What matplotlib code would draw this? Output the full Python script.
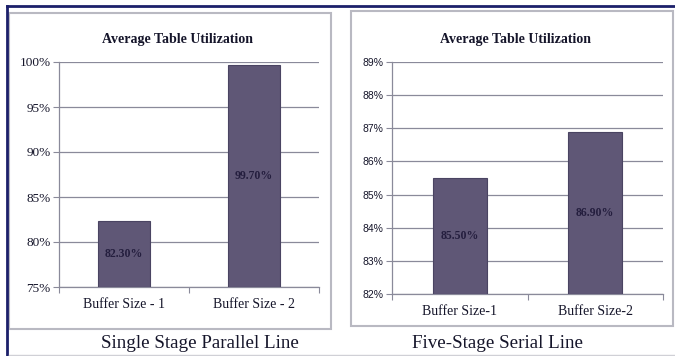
import matplotlib
matplotlib.use("Agg")
import matplotlib.pyplot as plt
from matplotlib.patches import Rectangle
from matplotlib.lines import Line2D
import numpy as np

# ---- data ----
left_categories = ["Buffer Size - 1", "Buffer Size - 2"]
left_values = [82.3, 99.7]
left_ticks = [75, 80, 85, 90, 95, 100]
left_caption = "Single Stage Parallel Line"

right_categories = ["Buffer Size-1", "Buffer Size-2"]
right_values = [85.5, 86.9]
right_ticks = [82, 83, 84, 85, 86, 87, 88, 89]
right_caption = "Five-Stage Serial Line"

chart_title = "Average Table Utilization"

# ---- style ----
W, H = 675, 356
SERIF = "Liberation Serif"
SANS = "Liberation Sans"
BAR = "#5f5776"
BAR_EDGE = "#4a4462"
GRID = "#8a8a9a"
TXT = "#15152a"
LBL = "#241e3e"
BOX = "#b9b9c2"
NAVY = "#1c206a"

fig = plt.figure(figsize=(W / 100, H / 100), dpi=100)
fig.patch.set_facecolor("white")


def fx(px):
    return px / W


def fy(py):
    return 1 - py / H


def frame(x0, y0, x1, y1):
    fig.add_artist(Rectangle((fx(x0), fy(y1)), fx(x1) - fx(x0), fy(y0) - fy(y1),
                             transform=fig.transFigure, fill=False,
                             edgecolor=BOX, linewidth=1.5))


# outer decorations
fig.add_artist(Line2D([fx(7), fx(675)], [fy(6), fy(6)], transform=fig.transFigure,
                      color=NAVY, linewidth=2.0))
fig.add_artist(Line2D([fx(7), fx(7)], [fy(6), fy(356)], transform=fig.transFigure,
                      color=NAVY, linewidth=2.0))
fig.add_artist(Line2D([fx(9), fx(675)], [fy(355), fy(355)], transform=fig.transFigure,
                      color="#d0d0d6", linewidth=1.0))
frame(9, 13, 331, 329)
frame(351, 11, 673, 326)


def draw(ax_rect, cats, vals, ticks, tick_font, tick_size):
    ax = fig.add_axes(ax_rect)
    x = np.arange(len(cats))
    lo, hi = ticks[0], ticks[-1]
    ax.bar(x, [v - lo for v in vals], bottom=lo, width=0.4, color=BAR,
           edgecolor=BAR_EDGE, linewidth=0.8, zorder=3)
    ax.set_xlim(-0.5, len(cats) - 0.5)
    ax.set_ylim(lo, hi)
    ax.set_yticks(ticks)
    ax.set_yticklabels([f"{t}%" for t in ticks], fontfamily=tick_font,
                       fontsize=tick_size, color=TXT)
    ax.set_xticks(x)
    ax.set_xticklabels(cats, fontfamily=SERIF, fontsize=10, color=TXT)
    ax.set_xticks(np.arange(len(cats) + 1) - 0.5, minor=True)
    ax.tick_params(axis="x", which="major", length=0, pad=8)
    ax.tick_params(axis="x", which="minor", length=4, color=GRID, width=0.8,
                   direction="out")
    ax.tick_params(axis="y", length=4, color=GRID, width=0.8, direction="out", pad=2)
    ax.yaxis.grid(True, color=GRID, linewidth=0.9, zorder=0)
    for s in ("top", "right"):
        ax.spines[s].set_visible(False)
    for s in ("left", "bottom"):
        ax.spines[s].set_color(GRID)
        ax.spines[s].set_linewidth(0.9)
    ax.set_facecolor("white")
    for xi, v in zip(x, vals):
        ax.text(xi, (v + lo) / 2, f"{v:.2f}%", ha="center", va="center",
                fontfamily=SERIF, fontweight="bold", fontsize=8.5, color=LBL,
                zorder=4)
    return ax


draw([fx(59), fy(287), fx(319) - fx(59), fy(62) - fy(287)],
     left_categories, left_values, left_ticks, SERIF, 9.5)
draw([fx(392), fy(294), fx(663) - fx(392), fy(62) - fy(294)],
     right_categories, right_values, right_ticks, SANS, 7.5)

fig.text(fx(177), fy(39), chart_title, ha="center", va="center",
         fontfamily=SERIF, fontweight="bold", fontsize=10, color=TXT)
fig.text(fx(516), fy(39), chart_title, ha="center", va="center",
         fontfamily=SERIF, fontweight="bold", fontsize=10, color=TXT)
fig.text(fx(200), fy(344), left_caption, ha="center", va="center",
         fontfamily=SERIF, fontsize=13.7, color=TXT)
fig.text(fx(498), fy(344), right_caption, ha="center", va="center",
         fontfamily=SERIF, fontsize=13.7, color=TXT)

fig.savefig("out.png", dpi=100, facecolor="white")
